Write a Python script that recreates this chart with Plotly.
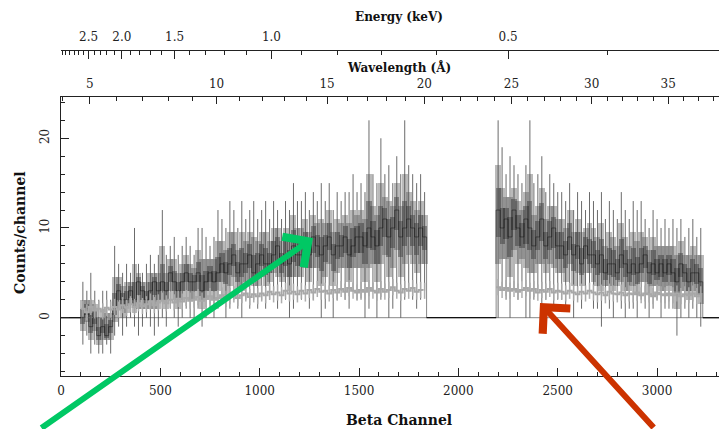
import numpy as np
import plotly.graph_objects as go

# ---------------- data ----------------
BIN = 20                      # channels per plotted bin
LEFT_START = 100              # first channel of the left block
RIGHT_START = 2190            # first channel of the right block
X_MAX = 3352
Y_RANGE = [-6.5, 24.6]

# source spectrum, left block (channels 100-1840)
src_left_val = [0, 1, -1, 0, -2, -1, -2, -1,
                1, 3, 2, 2, 3, 2, 4, 3, 2, 3, 4, 3,
                4, 3, 5, 4, 3, 4, 5, 4, 4, 5, 3, 4, 5, 4, 5,
                6, 5, 6, 7, 5, 6, 6, 7, 5, 6,
                7, 6, 6, 7, 8, 6, 7, 6, 8, 7,
                7, 8, 7, 9, 8, 7, 8, 9, 7, 8, 8, 9, 7, 8, 9,
                9, 8, 10, 9, 8, 10, 11, 9, 10, 12, 9, 10, 11, 10, 9, 10, 9]
src_left_hi = [4, 3, 5, 3, 2, 3, 3, 2,
               8, 6, 5, 6, 5, 10, 6, 5, 6, 7, 6, 7,
               12, 7, 8, 9, 7, 8, 9, 8, 7, 10, 10, 9, 8, 9, 12,
               11, 10, 13, 12, 10, 13, 11, 12, 13, 11,
               12, 13, 11, 13, 12, 11, 13, 12, 15, 13,
               13, 14, 12, 14, 13, 15, 13, 15, 12, 14, 13, 14, 14, 16, 14,
               15, 14, 22, 16, 15, 20, 16, 17, 15, 18, 16, 22, 17, 16, 15, 16, 14]
src_left_lo = [-3, -2, -4, -3, -4, -4, -3, -4,
               -2, -1, -2, -1, 0, -1, -2, -1, 0, -1, -2, -1,
               0, -1, 1, 0, -1, 0, 1, 0, 0, 1, -1, 0, 1, 0, 1,
               2, 0, 1, 2, 1, 0, 2, 1, 2, 1,
               2, 1, 2, 3, 1, 2, 2, 0, 1, 2,
               2, 3, 1, 2, 3, 0, 1, 3, 0, 2, 3, 2, 1, 3, 2,
               2, 0, 1, 3, 0, 2, 3, 0, 1, 3, 0, 2, 3, 2, 1, 2, 3]

# source spectrum, right block (channels 2190-3230)
src_right_val = [12, 10, 11, 9, 12, 10, 9, 11,
                 10, 8, 9, 11, 8, 9, 10, 8,
                 8, 7, 9, 7, 8, 6, 8, 7, 7,
                 6, 7, 5, 6, 6, 5, 7, 6, 5,
                 6, 5, 6, 7, 5, 6, 5, 6, 5, 6,
                 5, 4, 6, 5, 4, 5, 5, 4]
src_right_hi = [22, 19, 16, 18, 17, 16, 15, 17,
                22, 15, 16, 18, 14, 16, 15, 14,
                14, 13, 15, 12, 14, 13, 12, 14, 13,
                12, 14, 11, 13, 12, 11, 14, 12, 11,
                13, 12, 13, 11, 10, 12, 11, 10, 11, 10,
                11, 10, 11, 9, 10, 11, 9, 10]
src_right_lo = [0, 3, 2, 0, 3, 2, 4, 0,
                0, 2, 3, 1, 2, 3, 1, 2,
                2, 1, 3, 0, 2, 1, 2, 3, 1,
                1, -1, 2, 1, 0, 2, 1, 0, 1,
                1, 0, 2, 1, 0, 1, 2, 0, 1, 1,
                1, -2, 0, 1, 0, 1, 0, -1]

# background spectrum
bkg_left = [1.0, 0.6, 1.2, 0.8, 1.0, 0.7, 1.1, 0.9,
            1.2, 0.9, 1.4, 1.1, 1.5, 1.2, 1.6, 1.3, 1.5, 1.8, 1.4, 1.7,
            1.9, 1.6, 2.0, 1.7, 2.1, 1.8, 2.2, 1.9, 2.0, 2.3, 1.9, 2.1, 2.4, 2.0, 2.2,
            2.5, 2.1, 2.4, 2.6, 2.2, 2.5, 2.7, 2.3, 2.6, 2.4,
            2.7, 2.5, 2.9, 2.6, 2.8, 2.5, 3.0, 2.7, 2.9, 2.6,
            3.0, 2.7, 3.1, 2.8, 3.2, 2.9, 3.0, 2.7, 3.1, 2.8, 3.2, 2.9, 3.3, 3.0, 2.8,
            3.1, 2.9, 3.3, 3.0, 2.8, 3.2, 2.9, 3.1, 3.4, 3.0, 2.8, 3.2, 3.0, 3.3, 2.9, 3.1, 3.0]
bkg_right = [3.4, 3.1, 3.3, 3.0, 3.2, 2.9, 3.1, 3.3,
             3.0, 3.2, 2.8, 3.1, 2.9, 3.2, 2.8, 3.0,
             2.9, 2.7, 3.0, 2.8, 2.6, 2.9, 2.7, 3.0, 2.8,
             2.6, 2.8, 2.5, 2.9, 2.7, 2.6, 2.8, 2.5, 2.7,
             2.6, 2.8, 2.5, 2.7, 2.6, 2.4, 2.8, 2.6, 2.5, 2.7,
             2.5, 2.7, 2.4, 2.6, 2.5, 2.7, 2.4, 2.6]
BKG_ERR = 0.9

# axis labels
x_ticks = [0, 500, 1000, 1500, 2000, 2500, 3000]
y_ticks = [0, 10, 20]
wl_labels = [5, 10, 15, 20, 25, 30, 35]
en_labels = [2.5, 2.0, 1.5, 1.0, 0.5]
# wavelength calibration (Angstrom -> beta channel)
wl_cal = [5, 10, 15, 20, 25, 30, 35]
ch_cal = [142, 789, 1339, 1822, 2268, 2676, 3054]
HC = 12.398  # keV * Angstrom

# ---------------- helpers ----------------
coef = np.polyfit(wl_cal, ch_cal, 3)


def wl2ch(w):
    return np.polyval(coef, np.asarray(w, dtype=float))


def inrange(v):
    return [float(a) for a in v if 0 <= a <= X_MAX]


def step_xy(start, vals):
    edges = start + BIN * np.arange(len(vals) + 1)
    x = [edges[0]] + list(edges[:-1]) + [edges[-1]]
    y = [0] + list(vals) + [0]
    return x, y


def whisk(start, lo, hi):
    xs, ys = [], []
    for i, (a, b) in enumerate(zip(lo, hi)):
        c = start + BIN * (i + 0.5)
        xs += [c, c, None]
        ys += [a, b, None]
    return xs, ys


fig = go.Figure()

# zero line
fig.add_trace(go.Scatter(x=[0, X_MAX], y=[0, 0], mode='lines',
                         line=dict(color='#888', width=1), hoverinfo='skip'))
left_end = LEFT_START + BIN * len(src_left_val)
right_end = RIGHT_START + BIN * len(src_right_val)
for a, b in [(0, LEFT_START), (left_end, RIGHT_START), (right_end, X_MAX)]:
    fig.add_trace(go.Scatter(x=[a, b], y=[0, 0], mode='lines',
                             line=dict(color='#111', width=1.3), hoverinfo='skip'))

for start, val, hi, lo in [(LEFT_START, src_left_val, src_left_hi, src_left_lo),
                           (RIGHT_START, src_right_val, src_right_hi, src_right_lo)]:
    val = np.array(val, float); hi = np.array(hi, float); lo = np.array(lo, float)
    centers = start + BIN * (np.arange(len(val)) + 0.5)
    box_lo = (val + lo) / 2
    box_hi = (val + hi) / 2
    fig.add_trace(go.Bar(x=centers, y=box_hi - box_lo, base=box_lo, width=BIN * 1.5,
                         marker=dict(color='rgba(90,90,90,0.42)', line=dict(width=0)),
                         hoverinfo='skip'))
    in_lo = (val + box_lo) / 2
    in_hi = (val + box_hi) / 2
    fig.add_trace(go.Bar(x=centers, y=in_hi - in_lo, base=in_lo, width=BIN * 1.3,
                         marker=dict(color='rgba(30,30,30,0.38)', line=dict(width=0)),
                         hoverinfo='skip'))
    wx, wy = whisk(start, lo, hi)
    fig.add_trace(go.Scatter(x=wx, y=wy, mode='lines',
                             line=dict(color='rgba(70,70,70,0.8)', width=1), hoverinfo='skip'))
    sx, sy = step_xy(start, val)
    fig.add_trace(go.Scatter(x=sx, y=sy, mode='lines', line_shape='hv',
                             line=dict(color='rgba(20,20,20,0.5)', width=1), hoverinfo='skip'))

for start, bk in [(LEFT_START, bkg_left), (RIGHT_START, bkg_right)]:
    bk = np.array(bk, float)
    wx, wy = whisk(start, bk - BKG_ERR, bk + BKG_ERR)
    fig.add_trace(go.Scatter(x=wx, y=wy, mode='lines',
                             line=dict(color='rgba(170,170,170,0.95)', width=1.5), hoverinfo='skip'))
    sx, sy = step_xy(start, bk)
    fig.add_trace(go.Scatter(x=sx[1:-1], y=sy[1:-1], mode='lines', line_shape='hv',
                             line=dict(color='#a8a8a8', width=2), hoverinfo='skip'))

# dummy traces so the extra top axes are drawn
fig.add_trace(go.Scatter(x=[None], y=[None], xaxis='x2', hoverinfo='skip'))
fig.add_trace(go.Scatter(x=[None], y=[None], xaxis='x3', hoverinfo='skip'))

# ---------------- layout (pixel geometry of the 727x429 window) ----------------
WIN_W, WIN_H = 727, 429
OFF = 8                                 # default page margin around the figure
W, H = WIN_W - OFF, WIN_H - OFF
PLOT_L, PLOT_R = 61, 727                # plot area in window pixels
EN_LINE, PLOT_TOP, PLOT_BOT = 50, 97, 376
ML, MR = PLOT_L - OFF, WIN_W - PLOT_R
MT = EN_LINE - OFF
MB = WIN_H - PLOT_BOT
ydom_top = (PLOT_BOT - PLOT_TOP) / (PLOT_BOT - EN_LINE)

TICKFONT = dict(family='DejaVu Serif', size=12, color='#222')
LINE = '#222'
common = dict(range=[0, X_MAX], showgrid=False, zeroline=False, showline=True, automargin=False,
              linecolor=LINE, linewidth=1, tickcolor=LINE, tickwidth=1, tickfont=TICKFONT)

wl_major = wl2ch(wl_labels)
wl_minor = inrange(wl2ch(np.arange(3, 41)))
en_major = wl2ch(HC / np.array(en_labels))
en_minor = inrange(wl2ch(HC / (np.arange(4, 40) / 10.0)))

fig.update_layout(
    width=W, height=H, margin=dict(l=ML, r=MR, t=MT, b=MB, autoexpand=False),
    plot_bgcolor='white', paper_bgcolor='white', showlegend=False,
    barmode='overlay', bargap=0,
    xaxis=dict(**common, tickvals=x_ticks, ticktext=[str(v) for v in x_ticks],
               ticks='inside', ticklen=8, ticklabelstandoff=4,
               minor=dict(tickmode='array', tickvals=list(range(0, X_MAX, 100)),
                          ticks='inside', ticklen=4, tickcolor=LINE)),
    xaxis2=dict(**common, overlaying='x', anchor='y', side='top',
                tickvals=list(wl_major), ticktext=[str(v) for v in wl_labels],
                ticks='inside', ticklen=7, ticklabelstandoff=3,
                minor=dict(tickmode='array', tickvals=wl_minor, ticks='inside',
                           ticklen=4, tickcolor=LINE)),
    xaxis3=dict(**common, overlaying='x', anchor='free', position=1, side='top',
                tickvals=list(en_major), ticktext=[f'{v:.1f}' for v in en_labels],
                ticks='inside', ticklen=8, ticklabelstandoff=4,
                minor=dict(tickmode='array', tickvals=en_minor, ticks='inside',
                           ticklen=4, tickcolor=LINE)),
    yaxis=dict(domain=[0, ydom_top], range=Y_RANGE, showgrid=False, zeroline=False,
               automargin=False,
               showline=True, linecolor=LINE, linewidth=1, tickcolor=LINE,
               tickvals=y_ticks, ticktext=[str(v) for v in y_ticks], tickangle=-90,
               ticks='inside', ticklen=8, tickfont=TICKFONT, ticklabelstandoff=6,
               minor=dict(dtick=2, ticks='inside', ticklen=4, tickcolor=LINE)),
)


def px2paper(px, py):
    # window pixels -> paper fractions
    return (px - PLOT_L) / (PLOT_R - PLOT_L), (PLOT_BOT - py) / (PLOT_BOT - EN_LINE)


for text, (px, py), size, ang in [('Beta Channel', (399, 420), 14, 0),
                                  ('Counts/channel', (20, 233), 14, -90),
                                  ('Energy (keV)', (399, 17), 12, 0),
                                  ('Wavelength (Å)', (399, 67), 12, 0)]:
    x, y = px2paper(px, py)
    fig.add_annotation(x=x, y=y, xref='paper', yref='paper', text=f'<b>{text}</b>',
                       showarrow=False, textangle=ang, xanchor='center', yanchor='middle',
                       font=dict(family='DejaVu Serif', size=size, color='#111'))

# arrows
for (hx, hy), (ax, ay), col in [((313, 238), (-273, 204), '#00c864'),
                                ((540, 303), (115, 145), '#cc3300')]:
    x, y = px2paper(hx, hy)
    fig.add_annotation(x=x, y=y, xref='paper', yref='paper', ax=ax, ay=ay,
                       showarrow=True, arrowhead=4, arrowsize=1.2, arrowwidth=6,
                       arrowcolor=col, text='')

fig.write_html('out.html')
